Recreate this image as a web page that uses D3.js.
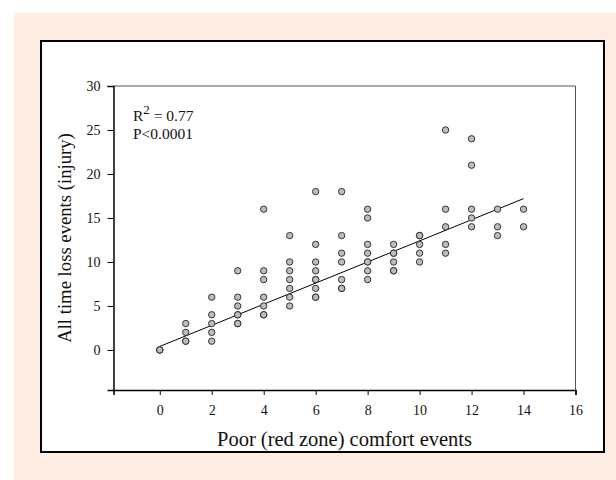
<!DOCTYPE html>
<html>
<head>
<meta charset="utf-8">
<script src="https://cdn.jsdelivr.net/npm/d3@7"></script>
<style>
  html, body { margin: 0; padding: 0; background: #ffffff; }
  svg { display: block; }
  text { font-family: "Liberation Serif", "Times New Roman", serif; fill: #111; }
</style>
</head>
<body>
<svg id="chart" width="616" height="480"></svg>
<script>
// Data (duplicates represent overlapping points)
const comfortEvents = [
  0,0,0,
  1,1,1,1,
  2,2,2,2,2,
  3,3,3,3,3,3,3,
  4,4,4,4,4,4,4,
  5,5,5,5,5,5,5,
  6,6,6,6,6,6,6,6,6,
  7,7,7,7,7,7,7,
  8,8,8,8,8,8,8,8,
  9,9,9,9,9,9,
  10,10,10,10,10,
  11,11,11,11,11,
  12,12,12,12,12,
  13,13,13,
  14,14
];
const injuryEvents = [
  0,0,0,
  3,2,1,1,
  6,4,3,2,1,
  9,6,5,4,4,3,3,
  16,9,8,6,5,4,4,
  13,10,9,8,7,6,5,
  18,12,10,9,8,8,7,6,6,
  18,13,11,10,8,7,7,
  16,15,12,11,10,10,9,8,
  12,11,11,10,9,9,
  13,13,12,11,10,
  25,16,14,12,11,
  24,21,16,15,14,
  16,14,13,
  16,14
];
const fitIntercept = 0.4;
const fitSlope = 1.2;
const fitRange = [0, 14];
const xTicks = [0, 2, 4, 6, 8, 10, 12, 14, 16];
const yTicks = [0, 5, 10, 15, 20, 25, 30];
const xTitle = "Poor (red zone) comfort events";
const yTitle = "All time loss events (injury)";
const rSquaredText = ["R", "2", " = 0.77"];
const pValueText = "P<0.0001";

const svg = d3.select("#chart");

// background panel
svg.append("rect").attr("x", 14).attr("y", 13).attr("width", 602).attr("height", 467).attr("fill", "#fdede3");
svg.append("rect").attr("x", 41).attr("y", 41).attr("width", 563).attr("height", 411)
  .attr("fill", "#ffffff").attr("stroke", "#000").attr("stroke-width", 2);

const plot = { left: 113.5, right: 575.5, top: 86, bottom: 390 };
const x = d3.scaleLinear().domain([-1.78, 16]).range([plot.left, plot.right]);
const y = d3.scaleLinear().domain([-4.55, 30]).range([plot.bottom, plot.top]);

// frame (top/right thin)
svg.append("line").attr("x1", plot.left).attr("x2", plot.right).attr("y1", plot.top).attr("y2", plot.top)
  .attr("stroke", "#555").attr("stroke-width", 1);
svg.append("line").attr("x1", plot.right).attr("x2", plot.right).attr("y1", plot.top).attr("y2", plot.bottom)
  .attr("stroke", "#555").attr("stroke-width", 1);

// axes
const xAxis = svg.append("g").attr("transform", `translate(0,${plot.bottom})`)
  .call(d3.axisBottom(x).tickValues(xTicks).tickSize(5).tickPadding(10).tickFormat(d3.format("d")));
xAxis.select(".domain").attr("stroke", "#000").attr("stroke-width", 1.5);
xAxis.selectAll(".tick line").attr("stroke", "#000");
xAxis.selectAll(".tick text").attr("font-size", 14).attr("font-family", "Liberation Serif").attr("fill", "#222");

const yAxis = svg.append("g").attr("transform", `translate(${plot.left},0)`)
  .call(d3.axisLeft(y).tickValues(yTicks).tickSize(6).tickPadding(7).tickFormat(d3.format("d")));
yAxis.select(".domain").attr("stroke", "#000").attr("stroke-width", 1.5);
yAxis.selectAll(".tick line").attr("stroke", "#000");
yAxis.selectAll(".tick text").attr("font-size", 14).attr("font-family", "Liberation Serif").attr("fill", "#222");

// regression line
svg.append("line")
  .attr("x1", x(fitRange[0])).attr("y1", y(fitIntercept + fitSlope * fitRange[0]))
  .attr("x2", x(fitRange[1])).attr("y2", y(fitIntercept + fitSlope * fitRange[1]))
  .attr("stroke", "#000").attr("stroke-width", 1);

// points
svg.append("g").selectAll("circle")
  .data(comfortEvents.map((c, i) => [c, injuryEvents[i]]))
  .join("circle")
  .attr("cx", d => x(d[0])).attr("cy", d => y(d[1])).attr("r", 3.2)
  .attr("fill", "#bdbdbd").attr("stroke", "#222").attr("stroke-width", 0.9);

// stats annotation
const r2 = svg.append("text").attr("x", 133).attr("y", 121).attr("font-size", 15.5);
r2.append("tspan").text(rSquaredText[0]);
r2.append("tspan").attr("dy", -7).attr("font-size", 13).text(rSquaredText[1]);
r2.append("tspan").attr("dy", 7).text(rSquaredText[2]);
svg.append("text").attr("x", 133).attr("y", 139).attr("font-size", 15.5).text(pValueText);

// axis titles
svg.append("text").attr("x", (plot.left + plot.right) / 2).attr("y", 446)
  .attr("text-anchor", "middle").attr("font-size", 20.5).text(xTitle);
svg.append("text").attr("transform", `translate(71,238) rotate(-90)`)
  .attr("text-anchor", "middle").attr("font-size", 18.7).text(yTitle);
</script>
</body>
</html>
